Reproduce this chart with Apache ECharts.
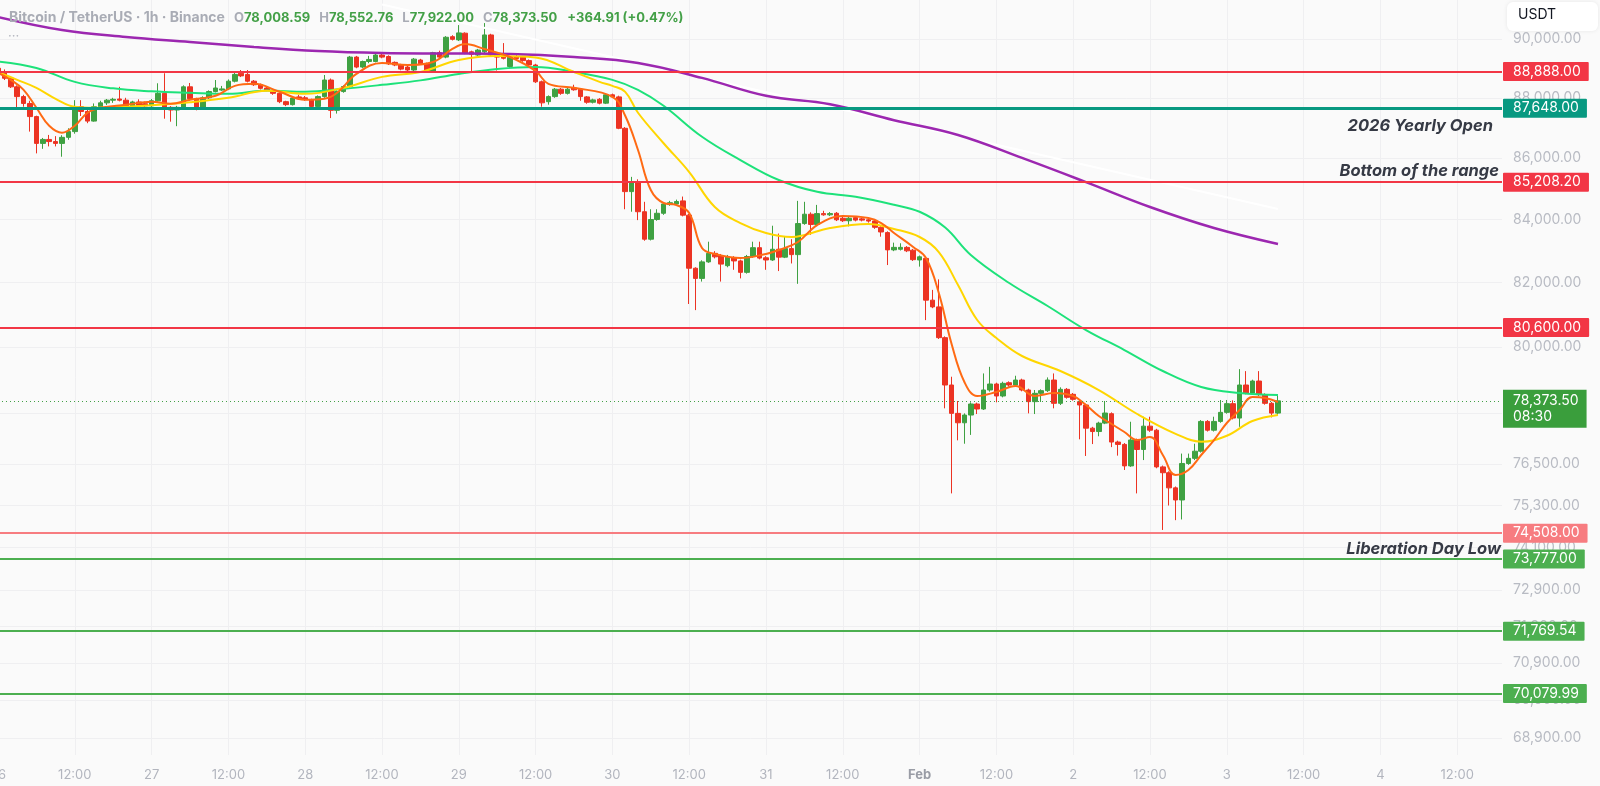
<!DOCTYPE html>
<html>
<head>
<meta charset="utf-8">
<script src="https://cdn.jsdelivr.net/npm/echarts@6/dist/echarts.min.js"></script>
<style>
html,body{margin:0;padding:0;background:#fafafa;}
#c{width:1600px;height:786px;}
</style>
</head>
<body>
<div id="c"></div>
<script>
// ---------- DATA ----------
const startTimeUTC = Date.UTC(2026, 0, 26, 0, 0);   // first hourly candle: Jan 26 00:00
const hourCount = 236;                               // hourly slots shown on the time axis
const monthNames = ['Jan','Feb','Mar','Apr','May','Jun','Jul','Aug','Sep','Oct','Nov','Dec'];

const opens = [
 89000,88880,88660,88370,88040,87810,87370,86480,86610,86540,86480,86680,86870,87700,87540,87220,87700,87830,87920,87960,87920,87640,87860,87800,
 87730,87900,88150,87680,87590,87650,88370,87970,87650,88000,88210,88260,88300,88560,88830,88790,88560,88440,88330,88250,88150,87870,87770,88030,
 88000,87940,87710,88040,88600,87580,88210,88380,89380,89040,89230,89230,89450,89400,89200,89110,89040,88940,89280,89150,88880,89530,89380,90080,
 89970,90200,89560,89450,89560,90140,89450,89480,89060,89400,89380,89260,89110,88540,87870,88040,88290,88150,88330,88290,88030,87850,87950,87820,
 88100,88030,86980,84900,85220,84250,83370,84000,84200,84480,84500,84600,84140,82450,82130,82650,82920,82850,82530,82790,82680,82320,82820,83100,
 82780,82710,83050,82800,83070,82880,83870,84170,83840,84190,84150,84200,84040,83960,84060,84020,83990,83950,83750,83580,83030,83050,83110,83020,
 82710,82760,81450,81240,80290,78850,78000,77720,77950,78280,78130,78700,78880,78520,78920,78850,79000,78700,78350,78600,78680,79000,78300,78720,
 78570,78350,78250,77560,77460,77710,77990,77150,77080,76450,77210,76930,77620,77500,76420,76250,75810,75460,76520,76670,76880,77760,77500,77760,
 78030,78290,77860,78850,78610,78970,78560,78300,78008.59
];
const highs = [
 89100,88960,88700,88420,88100,87900,87400,86660,86760,86720,86750,86980,87920,87920,87600,87810,87900,87960,88000,88370,88000,87900,87950,87870,
 87960,88490,88830,87720,87730,88420,88500,88000,88050,88250,88600,88400,88620,88850,88940,88940,88600,88480,88380,88300,88180,87900,88020,88100,
 88060,87970,88080,88770,88650,88250,88420,89420,89420,89260,89420,89490,89520,89440,89230,89150,89080,89350,89320,89190,89560,89600,90100,90130,
 90480,90230,89600,89660,90550,90180,89500,89860,89420,89470,89420,89300,89150,88580,88080,88330,88330,88340,88440,88330,88060,87970,87990,88150,
 88140,88070,87020,85380,85300,84570,84330,84330,84560,84600,84640,84740,84180,82480,82700,83290,82990,82900,82870,82830,82720,82870,83290,83290,
 82830,83800,83550,83450,83370,84600,84570,84230,84470,84280,84240,84240,84080,84080,84110,84060,84050,83990,83780,83620,83260,83240,83150,83060,
 82850,82800,81770,82100,80330,79100,78370,78000,78330,78320,79200,79400,78920,78950,78960,79130,79040,78740,78700,78720,79080,79200,78780,78760,
 78610,78390,78290,77600,77750,78370,78030,77190,77120,77750,77250,77900,77900,77540,76460,76290,75850,76810,76810,77100,77800,77800,77900,78400,
 78400,78390,79330,79270,79010,79270,78600,78340,78552.76
];
const lows = [
 88850,88600,88330,87590,87700,86870,86150,86300,86380,86380,86040,86600,86800,87390,87150,87200,87650,87760,87830,87880,87600,87590,87700,87680,
 87680,87870,87300,87200,87050,87600,87900,87580,87600,87960,88180,88230,88260,88520,88700,88520,88400,88280,88220,88100,87820,87720,87740,87930,
 87900,87680,87620,88000,87320,87470,88170,88340,89000,89000,89170,89200,89340,89110,89070,88930,88900,88900,89110,88850,88850,89330,89340,89950,
 89930,89480,88880,89420,89520,89400,88920,89300,89000,89290,89220,89080,88500,87700,87770,88000,88100,88110,88240,87900,87800,87810,87780,87790,
 87990,86950,84330,84250,83980,83320,83330,83960,84150,84440,84470,84100,81330,81140,82030,82620,82760,82030,82480,82400,82130,82280,82780,82730,
 82400,82680,82360,82770,82600,81960,83830,83510,83800,84120,84110,83950,83920,83780,83940,83940,83900,83700,83450,82550,82990,83010,82960,82680,
 82500,80830,81200,80250,78150,75650,77200,77100,77360,77980,78100,78650,78330,78480,78800,78810,78660,78000,77980,78340,78640,78150,78250,78440,
 78380,77230,76740,77090,77320,77680,77000,76750,76330,76420,75650,76620,77450,76380,74600,75300,74880,74900,76480,76620,76840,77460,77460,77720,
 77990,77820,77600,78570,78570,78520,78260,77880,77922
];
const closes = [
 88880,88660,88370,88040,87810,87370,86480,86610,86540,86480,86680,86870,87700,87540,87220,87700,87830,87920,87950,87920,87640,87860,87750,87730,
 87900,88150,87640,87590,87680,88370,87970,87650,88000,88210,88330,88300,88560,88790,88740,88560,88440,88320,88250,88150,87870,87770,87990,87970,
 87940,87710,88040,88600,87580,88210,88380,89380,89040,89230,89300,89450,89380,89150,89110,88970,88940,89310,89150,88880,89530,89380,90060,89990,
 90210,89520,89480,89620,90140,89450,89380,89340,89390,89330,89260,89110,88540,87830,88040,88290,88150,88290,88270,88040,87850,87930,87820,88100,
 88030,86980,84900,85220,84250,83370,84000,84200,84500,84540,84580,84140,82450,82130,82650,82920,82810,82580,82820,82680,82320,82820,83100,82770,
 82710,83050,82800,83070,82880,83870,84170,83840,84190,84150,84190,83990,83960,84040,83980,83980,83950,83750,83600,83030,83110,83110,83000,82720,
 82810,81450,81240,80290,78850,78000,77720,77950,78280,78130,78700,78880,78520,78900,78850,79000,78700,78350,78600,78680,79000,78300,78720,78480,
 78420,78250,77560,77460,77710,78010,77150,77080,76450,77210,76930,77620,77500,76420,76250,75810,75460,76520,76670,76880,77760,77500,77760,78030,
 78290,77860,78850,78610,78970,78560,78300,78008.59,78373.5
];

const fastHours = [0,2,4,6,8,10,12,14,16,20,24,27,30,34,37,40,44,48,51,53,56,60,64,68,71,73,76,80,84,86,90,96,98,100,102,104,106,108,110,112,116,120,122,125,128,132,136,138,140,143,145,147,149,151,153,156,159,162,165,168,170,172,174,176,178,180,182,184,186,188,190,192,194,196,198,200];
const fastEma = [88841,88605,88269,87666,87066,86833,87066,87499,87666,87766,87867,87800,87934,88067,88402,88470,88201,87934,87967,88168,88807,89180,89112,89214,89657,89828,89657,89384,88908,88470,88336,88034,87399,86261,84952,84531,84466,84209,83090,82900,82773,82900,83026,83281,83823,84112,84048,83887,83567,83122,82773,81672,80096,78941,78520,78640,78820,78520,78609,78520,78250,77922,77684,77446,77209,77298,76768,76184,76329,76768,77209,77713,78100,78490,78460,78340];

const midHours = [0,3,6,9,12,15,18,24,30,36,42,48,54,60,66,72,78,84,90,94,96,98,100,104,108,112,116,120,124,126,130,136,140,144,147,150,153,156,160,166,172,178,184,188,192,196,200];
const midEma = [88874,88605,88336,87967,87699,87666,87683,87750,87850,88000,88235,88134,88336,88706,88874,89282,89419,89367,88874,88537,88402,88201,87499,86485,85538,84402,83887,83567,83440,83504,83727,83855,83695,83440,82962,81923,80834,80280,79729,79273,78699,77981,77393,77159,77334,77772,77951];

const slowHours = [0,6,12,18,24,30,36,42,48,54,60,66,72,78,84,90,96,100,104,110,116,122,128,134,140,144,148,152,158,164,170,176,182,188,194,200];
const slowEma = [89229,89008,88537,88318,88218,88168,88134,88245,88201,88302,88436,88588,88807,88976,89044,88874,88605,88269,87733,86700,85932,85278,84893,84731,84473,84248,83740,82867,81985,81268,80525,79912,79273,78791,78611,78551];

const longHours = [0,10,20,30,40,50,60,70,80,90,100,110,120,130,140,150,160,170,180,190,200];
const longEma = [90760,90310,90069,89897,89725,89588,89520,89503,89486,89384,89180,88672,88067,87783,87250,86757,86000,85208,84402,83727,83217];

const trendHours = [60, 200];
const trendPrices = [91195, 84337];

// horizontal levels
const levelPrices = [88888, 87648, 85208.2, 80600, 74508, 73777, 71769.54, 70079.99];
const levelNotes  = ['', '2026 Yearly Open', 'Bottom of the range', '', '', 'Liberation Day Low', '', ''];
const countdown = '08:30';

// price scale labels
const priceTicks = [90000, 88000, 86000, 84000, 82000, 80000, 78000, 76500, 75300, 74100, 72900, 71900, 70900, 69900, 68900];
const priceMin = 68451, priceMax = 91352;

// ---------- BUILD ----------
const pad = n => (n < 10 ? '0' : '') + n;
const categories = [];
for (let i = 0; i < hourCount; i++) {
  const d = new Date(startTimeUTC + i * 3600000);
  categories.push(d.getUTCFullYear() + '-' + pad(d.getUTCMonth() + 1) + '-' + pad(d.getUTCDate()) + ' ' + pad(d.getUTCHours()) + ':00');
}
const candleData = opens.map((o, i) => [o, closes[i], lows[i], highs[i]]);
const pairs = (hs, vs) => hs.map((h, i) => [h, vs[i]]);
const fmt2 = v => Number(v).toLocaleString('en-US', {minimumFractionDigits: 2, maximumFractionDigits: 2});

const last = closes.length - 1;
const lastClose = closes[last];
const change = lastClose - closes[last - 1];
const changePct = change / closes[last - 1] * 100;

// styles
const UP = '#3fa142', DOWN = '#ec3323';
const RED = '#f23645', TEAL = '#089981', GREEN = '#4caf50', PINK = '#f77c80';
const levelColors = [RED, TEAL, RED, RED, PINK, GREEN, GREEN, GREEN];
const notePos = ['', 'insideEndBottom', 'insideEndTop', '', '', 'insideEndTop', '', ''];
const noteDist = [0, 9, 3, 0, 0, 1, 0, 0];
const FONT = 'Inter, "Noto Sans", Roboto, sans-serif';

const markData = [];
levelPrices.forEach((p, i) => {
  markData.push({
    yAxis: p,
    lineStyle: {color: levelColors[i], width: i === 1 ? 3 : 2, type: 'solid'},
    label: {
      show: true, position: 'end', formatter: fmt2(p), distance: 1,
      color: '#ffffff', backgroundColor: levelColors[i], fontSize: 14, fontFamily: FONT,
      padding: [3, 8, 2, 10], borderRadius: 1
    }
  });
  if (levelNotes[i]) {
    markData.push({
      yAxis: p,
      lineStyle: {color: 'rgba(0,0,0,0)', width: 1, type: 'solid'},
      label: {
        show: true, position: notePos[i], formatter: levelNotes[i], distance: noteDist[i],
        color: '#363a45', fontSize: 16.5, fontStyle: 'italic', fontWeight: 'bold', fontFamily: FONT
      }
    });
  }
});
markData.push({
  yAxis: lastClose,
  lineStyle: {color: '#43a047', width: 1, type: [1, 3]},
  label: {
    show: true, position: 'end', formatter: fmt2(lastClose) + '\n' + countdown, distance: 1,
    color: '#ffffff', backgroundColor: '#3a9e3c', fontSize: 14, lineHeight: 16, fontFamily: FONT,
    padding: [3, 8, 3, 10], offset: [0, 8], align: 'left'
  }
});

const chart = echarts.init(document.getElementById('c'), null, {renderer: 'canvas'});
const option = {
  backgroundColor: '#fafafa',
  animation: false,
  textStyle: {fontFamily: FONT},
  title: {
    left: 4, top: 6,
    text: '{n|Bitcoin / TetherUS · 1h · Binance}' +
          '{k|O}{v|' + fmt2(opens[last]) + '}' +
          '{k|H}{v|' + fmt2(highs[last]) + '}' +
          '{k|L}{v|' + fmt2(lows[last]) + '}' +
          '{k|C}{v|' + fmt2(lastClose) + '}' +
          '{c|' + (change >= 0 ? '+' : '') + fmt2(change) + ' (' + (change >= 0 ? '+' : '') + changePct.toFixed(2) + '%)}',
    textStyle: {
      fontFamily: FONT,
      rich: {
        n: {color: '#a9acb5', fontSize: 14, fontFamily: FONT},
        k: {color: '#a9acb5', fontSize: 13, fontFamily: FONT, padding: [0, 0, 0, 9]},
        v: {color: '#43a047', fontSize: 13, fontFamily: FONT},
        c: {color: '#43a047', fontSize: 13, fontFamily: FONT, padding: [0, 0, 0, 10]}
      }
    }
  },
  grid: {left: -2, right: 98, top: 0, bottom: 31, containLabel: false, outerBoundsMode: 'none'},
  xAxis: {
    type: 'category', data: categories, boundaryGap: false,
    axisLine: {show: false}, axisTick: {show: false},
    axisLabel: {
      interval: (i) => i % 12 === 0,
      color: '#b2b5be', fontSize: 13, margin: 14, fontFamily: FONT,
      formatter: (val) => {
        const parts = val.split(' ');
        if (parts[1] !== '00:00') return parts[1];
        const ymd = parts[0].split('-');
        if (ymd[2] === '01') return '{b|' + monthNames[+ymd[1] - 1] + '}';
        return String(+ymd[2]);
      },
      rich: {b: {fontWeight: 'bold', color: '#9a9da6', fontSize: 13, fontFamily: FONT}}
    },
    splitLine: {show: true, interval: (i) => i % 12 === 0, lineStyle: {color: '#efeff1', width: 1}}
  },
  yAxis: {
    type: 'log', position: 'right', min: priceMin, max: priceMax,
    axisLine: {show: false},
    axisTick: {show: false, customValues: priceTicks},
    axisLabel: {customValues: priceTicks, formatter: (v) => fmt2(v), color: '#b8bbc3', fontSize: 14, margin: 11, fontFamily: FONT},
    splitLine: {show: true, lineStyle: {color: '#efeff1', width: 1}}
  },
  series: [
    {
      type: 'candlestick', data: candleData, barWidth: 5, z: 2,
      itemStyle: {color: UP, color0: DOWN, borderColor: UP, borderColor0: DOWN, borderWidth: 1},
      markLine: {symbol: ['none', 'none'], silent: true, animation: false, z: 5, data: markData}
    },
    {type: 'line', data: pairs(trendHours, trendPrices), showSymbol: false, z: 3,
     lineStyle: {color: '#ffffff', width: 2}},
    {type: 'line', data: pairs(longHours, longEma), showSymbol: false, smooth: 0.4, z: 3,
     lineStyle: {color: '#9c27b0', width: 2.5}},
    {type: 'line', data: pairs(slowHours, slowEma), showSymbol: false, smooth: 0.4, z: 3,
     lineStyle: {color: '#1de27a', width: 2}},
    {type: 'line', data: pairs(midHours, midEma), showSymbol: false, smooth: 0.4, z: 3,
     lineStyle: {color: '#ffd600', width: 2}},
    {type: 'line', data: pairs(fastHours, fastEma), showSymbol: false, smooth: 0.4, z: 4,
     lineStyle: {color: '#ff6a13', width: 2}}
  ],
  graphic: [
    {type: 'text', left: 8, top: 30, style: {text: '···', fill: '#b2b5be', fontSize: 13, fontFamily: FONT}},
    {type: 'group', right: 2, top: 2, children: [
      {type: 'rect', shape: {x: 0, y: 0, width: 91, height: 29, r: 6},
       style: {fill: '#ffffff', shadowBlur: 4, shadowColor: 'rgba(0,0,0,0.08)'}},
      {type: 'text', x: 11, y: 6, style: {text: 'USDT', fill: '#131722', fontSize: 14, fontFamily: FONT}}
    ]}
  ]
};
chart.setOption(option);
</script>
</body>
</html>
